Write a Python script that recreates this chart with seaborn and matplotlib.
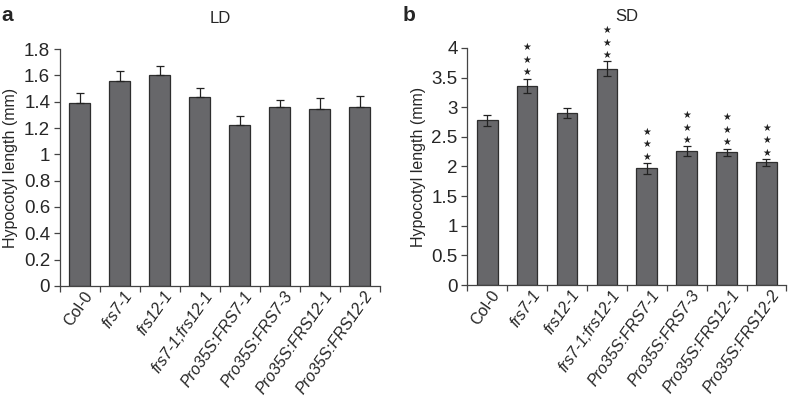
import matplotlib
matplotlib.use("Agg")
import matplotlib.pyplot as plt
import matplotlib.transforms as mtransforms
import numpy as np
import pandas as pd
import seaborn as sns

# genotypes on the x axis
genotypes = ["Col-0", "frs7-1", "frs12-1", "frs7-1;frs12-1",
             "Pro35S:FRS7-1", "Pro35S:FRS7-3", "Pro35S:FRS12-1", "Pro35S:FRS12-2"]

# long day hypocotyl length (mm) and SE
ld_mean = [1.39, 1.56, 1.60, 1.435, 1.22, 1.36, 1.345, 1.36]
ld_err = [0.077, 0.07, 0.07, 0.07, 0.068, 0.056, 0.083, 0.084]

# short day hypocotyl length (mm) and SE
sd_mean = [2.78, 3.36, 2.90, 3.65, 1.97, 2.26, 2.24, 2.07]
sd_err = [0.09, 0.12, 0.09, 0.12, 0.09, 0.08, 0.06, 0.06]
sd_signif = [0, 3, 0, 3, 3, 3, 3, 3]  # number of stars

sns.set_style("ticks")
plt.rcParams["font.family"] = ["Liberation Sans", "DejaVu Sans"]

bar_color = "#67676a"
edge_color = "#2e2e2e"


def draw_panel(ax, mean, err, ymax, ystep, title, both_sides, stars=None):
    df = pd.DataFrame({"genotype": genotypes, "length": mean})
    sns.barplot(data=df, x="genotype", y="length", ax=ax, color=bar_color,
                edgecolor=edge_color, linewidth=0.9, width=0.52, saturation=1)
    x = np.arange(len(genotypes))
    if both_sides:
        yerr = [err, err]
    else:
        yerr = [np.zeros(len(err)), err]
    ax.errorbar(x, mean, yerr=yerr, fmt="none", ecolor="#222222",
                elinewidth=0.9, capsize=3, capthick=0.9)
    ax.set_xlim(-0.5, len(genotypes) - 0.5)
    ax.set_ylim(0, ymax)
    ticks = np.arange(0, ymax + 1e-9, ystep)
    ax.set_yticks(ticks)
    ax.set_yticklabels([f"{v:g}" for v in ticks])
    ax.set_xticks(x)
    ax.set_xticks(np.arange(-0.5, len(genotypes), 1), minor=True)
    ax.tick_params(axis="x", which="major", length=0, pad=5, labelsize=11.5)
    ax.tick_params(axis="x", which="minor", length=4, width=0.9, color="#444444")
    ax.tick_params(axis="y", length=4, width=0.9, color="#444444", labelsize=13.5,
                   pad=3)
    ax.set_xticklabels(genotypes, rotation=55, ha="right", va="center",
                       rotation_mode="anchor")
    # nudge the slanted labels to the right, like the original
    shift = mtransforms.ScaledTranslation(7 / 72, 0, ax.figure.dpi_scale_trans)
    for k, lab in enumerate(ax.get_xticklabels()):
        if k > 0:
            lab.set_style("italic")
        lab.set_transform(lab.get_transform() + shift)
    for s in ["left", "bottom"]:
        ax.spines[s].set_color("#444444")
        ax.spines[s].set_linewidth(0.9)
    sns.despine(ax=ax)
    ax.set_xlabel("")
    ax.set_ylabel("Hypocotyl length (mm)", fontsize=11.5, labelpad=4)
    ax.set_title(title, fontsize=12, pad=19)
    if stars:
        for i, n in enumerate(stars):
            for j in range(n):
                ax.annotate("\u2605", (i, mean[i] + err[i]),
                            xytext=(0, 4.5 + 9 * j), textcoords="offset points",
                            ha="center", va="center", fontsize=7,
                            family="DejaVu Sans", color="#222222",
                            annotation_clip=False)


fig = plt.figure(figsize=(7.88, 4.09), dpi=100)
ax1 = fig.add_axes([0.076, 0.301, 0.406, 0.579])
ax2 = fig.add_axes([0.593, 0.303, 0.405, 0.580])

draw_panel(ax1, ld_mean, ld_err, 1.8, 0.2, "LD", False)
draw_panel(ax2, sd_mean, sd_err, 4.0, 0.5, "SD", True, sd_signif)

fig.text(0.002, 0.985, "a", fontsize=15, fontweight="bold", va="top")
fig.text(0.511, 0.985, "b", fontsize=15, fontweight="bold", va="top")

fig.savefig("out.png", dpi=100)
